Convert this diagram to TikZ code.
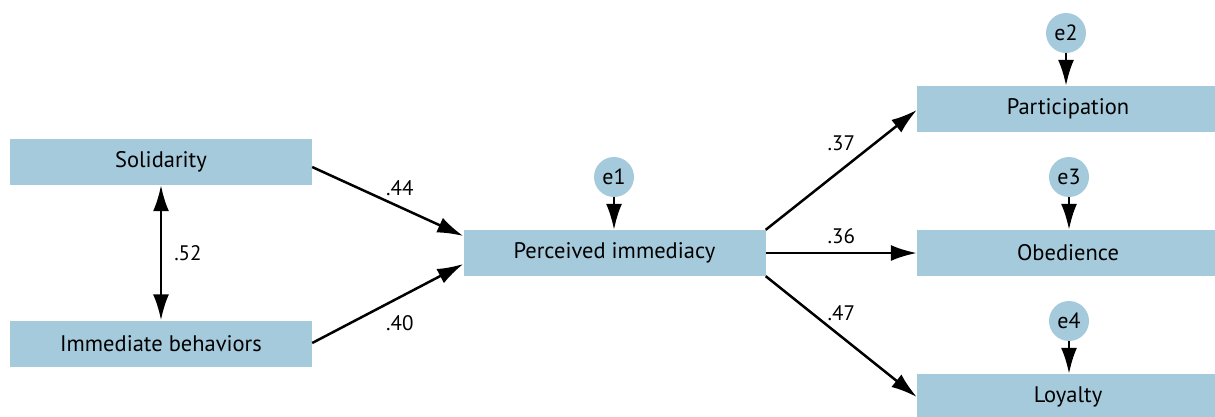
\documentclass[tikz,border=0pt]{standalone}
\usepackage{fontspec}
\setmainfont{PT Sans}
\usetikzlibrary{arrows.meta}
\definecolor{boxblue}{RGB}{165,202,220}
\begin{document}
\begin{tikzpicture}[x=1pt,y=-1pt,
  var/.style={fill=boxblue,minimum width=302pt,minimum height=46pt,inner sep=0pt,font=\fontsize{22.5}{26}\selectfont},
  err/.style={circle,fill=boxblue,minimum size=40pt,inner sep=0pt,font=\fontsize{22}{26}\selectfont},
  path/.style={line width=2.5pt,-{Latex[length=26pt,width=16pt]}},
  coef/.style={inner sep=2pt,font=\fontsize{21}{24}\selectfont}]
\useasboundingbox (0,0) rectangle (1215,416);
\node[var] (sol) at (161,162) {Solidarity};
\node[var] (imm) at (161,343.5) {Immediate behaviors};
\node[var] (per) at (614.5,253) {Perceived immediacy};
\node[var] (par) at (1068,109) {Participation};
\node[var] (obe) at (1068,253) {Obedience};
\node[var] (loy) at (1068,397) {Loyalty};
\node[err] (e1) at (614,177) {e1};
\node[err] (e2) at (1066,33) {e2};
\node[err] (e3) at (1069,177) {e3};
\node[err] (e4) at (1069,321) {e4};
\draw[path] (sol.east |- 0,167) -- (per.west |- 0,236)
  node[pos=0.58,coef,above=8pt] {.44};
\draw[path] (imm.east |- 0,343) -- (per.west |- 0,264)
  node[pos=0.58,coef,below=15pt] {.40};
\draw[path,{Latex[length=26pt,width=16pt]}-{Latex[length=26pt,width=16pt]}] (sol) -- (imm)
  node[midway,coef,right=10pt] {.52};
\draw[path] (per.north east) -- (par.west |- 0,110)
  node[pos=0.5,coef,above=16pt] {.37};
\draw[path] (per) -- (obe)
  node[pos=0.5,coef,above=6pt] {.36};
\draw[path] (per.south east) -- (loy.west |- 0,397)
  node[pos=0.5,coef,above=13pt] {.47};
\draw[path] (e1) -- (e1 |- per.north);
\draw[path] (e2) -- (e2 |- par.north);
\draw[path] (e3) -- (e3 |- obe.north);
\draw[path] (e4) -- (e4 |- loy.north);
\end{tikzpicture}
\end{document}
